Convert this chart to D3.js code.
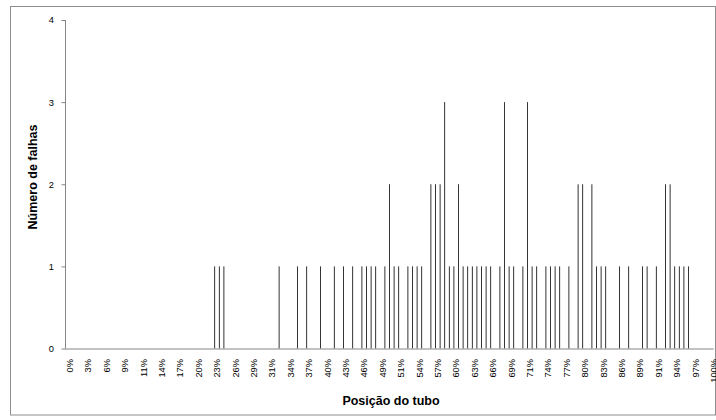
<!DOCTYPE html>
<html>
<head>
<meta charset="utf-8">
<script src="https://cdnjs.cloudflare.com/ajax/libs/d3/7.8.5/d3.min.js"></script>
<style>
	body { margin: 0; background: #fff; }
	text { font-family: "Liberation Sans", Arial, sans-serif; fill: #000; }
</style>
</head>
<body>
<div id="chart"></div>
<script>
// Tube positions (category index, 0..140 -> 0%..100%) that had failures
var nCategories = 141;
var tubeIndex = [32, 33, 34, 46, 50, 52, 55, 58, 60, 62, 64, 65, 66, 67, 69,
	70, 71, 72, 74, 75, 76, 77, 79, 80, 81, 82, 83, 84, 85, 86,
	87, 88, 89, 90, 91, 92, 94, 95, 96, 97, 99, 100, 101, 102, 104,
	105, 106, 107, 109, 111, 112, 114, 115, 116, 117, 120, 122, 125, 126, 128,
	130, 131, 132, 133, 134, 135];
var failures = [1, 1, 1, 1, 1, 1, 1, 1, 1, 1, 1, 1, 1, 1, 1,
	2, 1, 1, 1, 1, 1, 1, 2, 2, 2, 3, 1, 1, 2, 1,
	1, 1, 1, 1, 1, 1, 1, 3, 1, 1, 1, 3, 1, 1, 1,
	1, 1, 1, 1, 2, 2, 2, 1, 1, 1, 1, 1, 1, 1, 1,
	2, 2, 1, 1, 1, 1];

// Category labels, one every 4 categories
var xTickLabels = ["0%", "3%", "6%", "9%", "11%", "14%", "17%", "20%", "23%", "26%",
	"29%", "31%", "34%", "37%", "40%", "43%", "46%", "49%", "51%", "54%",
	"57%", "60%", "63%", "66%", "69%", "71%", "74%", "77%", "80%", "83%",
	"86%", "89%", "91%", "94%", "97%", "100%"];
var labelStep = 4;
var yTicks = [0, 1, 2, 3, 4];

var width = 716, height = 420;

var svg = d3.select("#chart")
	.append("svg")
	.attr("width", width)
	.attr("height", height);

// chart frame
svg.append("rect")
	.attr("x", 10.5).attr("y", 6.5)
	.attr("width", 705).attr("height", 408.5)
	.attr("fill", "none")
	.attr("stroke", "#8e8e8e");

var x = d3.scaleBand()
	.domain(d3.range(nCategories))
	.range([65.2, 713.8]);

var y = d3.scaleLinear()
	.domain([0, 4])
	.range([348.5, 20]);

// bars
svg.append("g")
	.selectAll("rect")
	.data(tubeIndex)
	.enter()
	.append("rect")
	.attr("x", function (d) { return x(d) + x.bandwidth() / 2 - 0.4; })
	.attr("width", 0.8)
	.attr("y", function (d, i) { return y(failures[i]); })
	.attr("height", function (d, i) { return y(0) - y(failures[i]); })
	.attr("fill", "#000");

// y axis
var yAxis = svg.append("g")
	.attr("transform", "translate(65,0)")
	.call(d3.axisLeft(y).tickValues(yTicks).tickSize(4).tickPadding(7).tickFormat(d3.format("d")));
yAxis.select(".domain").attr("stroke", "#868686").attr("d", "M0.5," + y(4) + "V" + y(0));
yAxis.selectAll(".tick line").attr("stroke", "#868686").attr("transform", "translate(0.5,0)");
yAxis.selectAll(".tick text").style("font-size", "9.3px").attr("fill", "#000");

// x axis line
svg.append("line")
	.attr("x1", 65).attr("x2", 713.8)
	.attr("y1", y(0) + 0.5).attr("y2", y(0) + 0.5)
	.attr("stroke", "#868686");

// x tick labels (rotated)
svg.append("g")
	.selectAll("text")
	.data(xTickLabels)
	.enter()
	.append("text")
	.attr("transform", function (d, i) {
		var cx = x(i * labelStep) + x.bandwidth() / 2 + 2.3;
		return "translate(" + cx + ",359) rotate(-90)";
	})
	.attr("dy", "0.35em")
	.attr("text-anchor", "end")
	.style("font-size", "9.3px")
	.text(function (d) { return d; });

// axis titles
svg.append("text")
	.attr("x", 391).attr("y", 401)
	.attr("dy", "0.35em")
	.attr("text-anchor", "middle")
	.style("font-size", "12.5px")
	.style("font-weight", "bold")
	.text("Posição do tubo");

svg.append("text")
	.attr("transform", "translate(33,177) rotate(-90)")
	.attr("dy", "0.35em")
	.attr("text-anchor", "middle")
	.style("font-size", "12.5px")
	.style("font-weight", "bold")
	.text("Número de falhas");
</script>
</body>
</html>
